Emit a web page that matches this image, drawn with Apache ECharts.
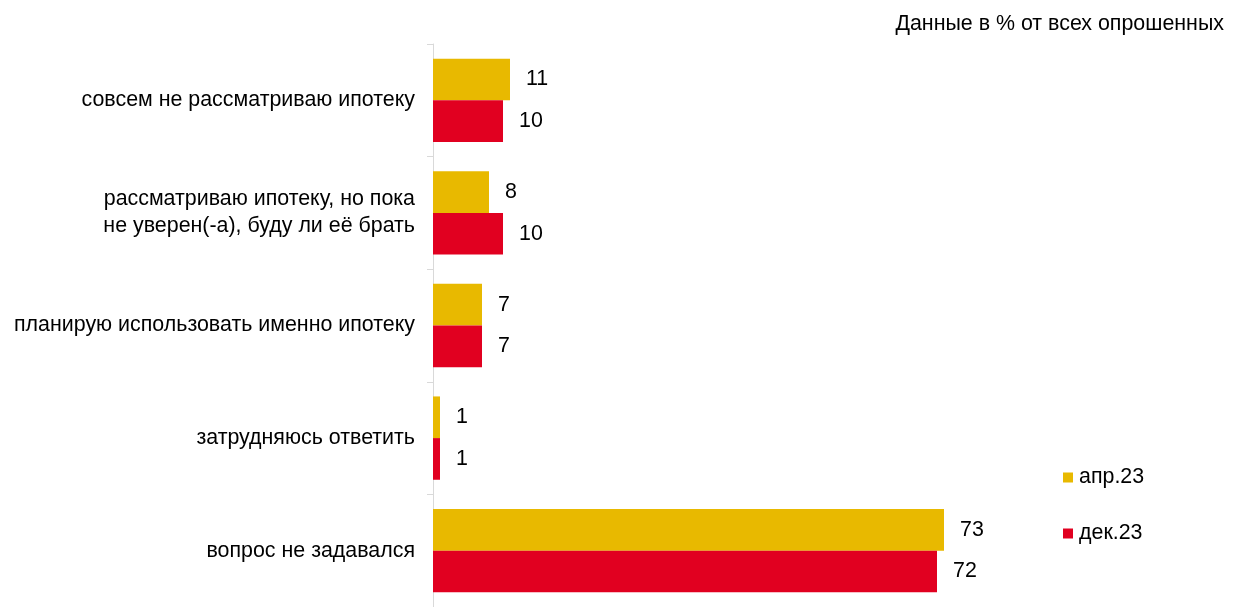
<!DOCTYPE html>
<html><head><meta charset="utf-8">
<script src="https://cdn.jsdelivr.net/npm/echarts@6/dist/echarts.min.js"></script>
<style>html,body{margin:0;padding:0;background:#fff}#c{width:1234px;height:607px}</style>
</head><body><div id="c"></div>
<script>
var categories = ['совсем не рассматриваю ипотеку','рассматриваю ипотеку, но пока\nне уверен(-а), буду ли её брать','планирую использовать именно ипотеку','затрудняюсь ответить','вопрос не задавался'];
var seriesNames = ['апр.23','дек.23'];
var apr23 = [11, 8, 7, 1, 73];
var dec23 = [10, 10, 7, 1, 72];
var title = 'Данные в % от всех опрошенных';
var chart = echarts.init(document.getElementById('c'), null, {renderer:'canvas'});
var font = 'Arial, "Liberation Sans", sans-serif';
var fs = 21.4;
var lbl = {show:true, position:'right', distance:16, color:'#000', fontSize:fs, fontFamily:font};
chart.setOption({
  animation:false,
  title:{text:title, right:5, top:9, textStyle:{fontSize:fs, fontWeight:'normal', color:'#000', fontFamily:font}},
  legend:{orient:'vertical', left:1063, top:467, itemWidth:10, itemHeight:10, itemGap:35, icon:'rect', padding:0,
    textStyle:{fontSize:fs, color:'#000', fontFamily:font, padding:[0,0,0,1]}, data:seriesNames},
  grid:{left:433, top:44, width:560, height:566},
  xAxis:{type:'value', min:0, max:80, show:false},
  yAxis:{type:'category', inverse:true, data:categories,
    axisLine:{show:true, lineStyle:{color:'#D9D9D9', width:1}},
    axisTick:{show:true, length:6, lineStyle:{color:'#D9D9D9'}},
    axisLabel:{color:'#000', fontSize:fs, fontFamily:font, margin:18, lineHeight:27, align:'right'}},
  series:[
    {name:seriesNames[0], type:'bar', data:apr23, barGap:0, barCategoryGap:'26%', itemStyle:{color:'#E8B900'}, label:lbl},
    {name:seriesNames[1], type:'bar', data:dec23, barGap:0, barCategoryGap:'26%', itemStyle:{color:'#E10020'}, label:lbl}
  ]
});
</script></body></html>
